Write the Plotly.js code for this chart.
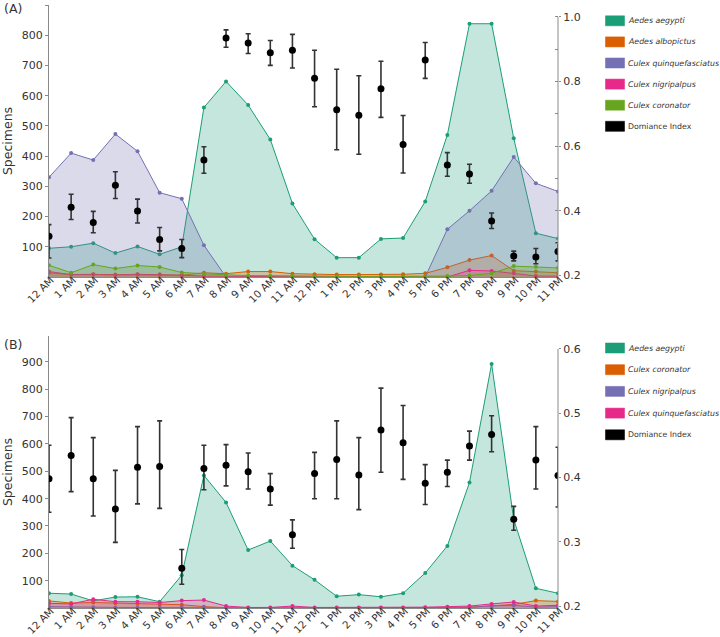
<!DOCTYPE html>
<html>
<head>
<meta charset="utf-8">
<script src="https://cdn.plot.ly/plotly-3.0.1.min.js"></script>
<style>
  html, body { margin: 0; padding: 0; background: #fff; }
  #plot { width: 720px; height: 637px; }
</style>
</head>
<body>
<div id="plot"></div>
<script>
// ======================= DATA =======================
const hours = ['12 AM','1 AM','2 AM','3 AM','4 AM','5 AM','6 AM','7 AM','8 AM','9 AM','10 AM','11 AM',
               '12 PM','1 PM','2 PM','3 PM','4 PM','5 PM','6 PM','7 PM','8 PM','9 PM','10 PM','11 PM'];

// panel (A)
const namesA  = ['Aedes aegypti','Aedes albopictus','Culex quinquefasciatus','Culex nigripalpus','Culex coronator'];
const colorsA = ['#1b9e77','#d95f02','#7570b3','#e7298a','#66a61e'];
const aegyptiA     = [95,100,112,79,101,75,100,561,647,569,455,243,125,64,64,126,129,250,470,838,838,459,145,127];
const albopictusA  = [14,8,8,8,8,8,6,14,11,18,18,11,9,8,8,8,9,12,32,56,71,21,18,14];
const quinqueA     = [330,410,387,473,416,279,259,105,0,0,0,0,0,0,0,0,0,0,158,219,285,397,310,283];
const nigripalpusA = [18,8,9,7,9,8,6,3,2,1,1,1,1,1,1,1,1,0,0,22,20,12,3,3];
const coronatorA   = [39,14,41,28,38,33,15,10,7,5,4,3,2,2,2,2,2,2,3,5,12,36,34,30];
const domA   = [0.321,0.411,0.364,0.479,0.399,0.311,0.283,0.557,0.935,0.919,0.889,0.897,
                0.810,0.713,0.696,0.778,0.605,0.867,0.542,0.514,0.368,0.260,0.257,0.274];
const domA_hi = [0.357,0.451,0.398,0.521,0.436,0.348,0.311,0.598,0.960,0.948,0.927,0.946,
                 0.897,0.838,0.818,0.863,0.695,0.921,0.580,0.544,0.393,0.275,0.283,0.301];
const domA_lo = [0.254,0.373,0.332,0.438,0.362,0.276,0.255,0.516,0.906,0.887,0.850,0.842,
                 0.722,0.589,0.575,0.689,0.517,0.810,0.507,0.485,0.345,0.245,0.236,0.245];

// panel (B)
const namesB  = ['Aedes aegypti','Culex coronator','Culex nigripalpus','Culex quinquefasciatus'];
const colorsB = ['#1b9e77','#d95f02','#7570b3','#e7298a'];
const aegyptiB     = [54,51,26,40,41,23,120,485,386,212,245,155,103,43,49,41,54,128,227,459,893,324,72,54];
const coronatorB   = [26,18,20,17,16,14,12,5,1,0,0,0,0,0,0,0,0,0,2,3,7,13,27,24];
const nigripalpusB = [5,3,3,2,2,2,2,3,1,0,0,0,0,0,0,0,0,0,0,2,8,10,3,5];
const quinqueB     = [17,15,32,23,23,20,27,29,7,2,2,7,2,2,2,2,2,3,5,7,15,22,7,10];
const domB    = [0.398,0.434,0.398,0.351,0.416,0.417,0.259,0.414,0.419,0.409,0.382,0.311,
                 0.406,0.428,0.404,0.474,0.454,0.391,0.408,0.449,0.467,0.335,0.427,0.403];
const domB_hi = [0.450,0.493,0.462,0.411,0.479,0.488,0.288,0.450,0.451,0.438,0.406,0.334,
                 0.439,0.488,0.462,0.539,0.512,0.420,0.427,0.472,0.496,0.355,0.479,0.447];
const domB_lo = [0.346,0.378,0.340,0.299,0.359,0.352,0.234,0.381,0.387,0.382,0.357,0.290,
                 0.367,0.367,0.350,0.408,0.397,0.358,0.386,0.427,0.440,0.318,0.382,0.354];

const domName = 'Domiance Index';

// ======================= HELPERS =======================
const FONT = 'DejaVu Sans, Verdana, sans-serif';

function rgba(hex, a) {
  const n = parseInt(hex.slice(1), 16);
  return 'rgba(' + (n >> 16) + ',' + ((n >> 8) & 255) + ',' + (n & 255) + ',' + a + ')';
}

function areaTrace(y, color, xa, ya) {
  return {
    x: hours, y: y, xaxis: xa, yaxis: ya,
    type: 'scatter', mode: 'lines+markers', fill: 'tozeroy',
    fillcolor: rgba(color, 0.26),
    line: { color: color, width: 1 },
    marker: { color: color, size: 4 },
    showlegend: false, hoverinfo: 'skip'
  };
}

function domTrace(y, hi, lo, xa, ya) {
  return {
    x: hours, y: y, xaxis: xa, yaxis: ya,
    type: 'scatter', mode: 'markers',
    marker: { color: '#000', size: 7 },
    error_y: {
      type: 'data', symmetric: false,
      array: hi.map((v, i) => v - y[i]),
      arrayminus: lo.map((v, i) => y[i] - v),
      color: '#333', thickness: 1.6, width: 2.5
    },
    showlegend: false, hoverinfo: 'skip'
  };
}

// ======================= TRACES =======================
const seriesA = [aegyptiA, albopictusA, quinqueA, nigripalpusA, coronatorA];
const seriesB = [aegyptiB, coronatorB, nigripalpusB, quinqueB];

const traces = [];
seriesA.forEach((s, i) => traces.push(areaTrace(s, colorsA[i], 'x', 'y')));
traces.push(domTrace(domA, domA_hi, domA_lo, 'x', 'y2'));
seriesB.forEach((s, i) => traces.push(areaTrace(s, colorsB[i], 'x2', 'y3')));
traces.push(domTrace(domB, domB_hi, domB_lo, 'x2', 'y4'));

// ======================= LAYOUT =======================
// plot area in pixels: x 49..558, y 5..608
const L = 49, R = 558, T = 5, B = 608;
const px = v => (v - L) / (R - L);
const py = v => (B - v) / (B - T);

function xAxis(anchor) {
  return {
    anchor: anchor, domain: [0, 1], type: 'category', range: [0, 23],
    tickangle: -45, tickfont: { family: FONT, size: 10.3, color: '#333' },
    showline: true, linecolor: '#8a8a8a', linewidth: 1,
    ticks: '', ticklabelstandoff: -8, ticklabelshift: 2,
    showgrid: false, zeroline: false, fixedrange: true
  };
}

function leftAxis(anchor, domain, range) {
  return {
    anchor: anchor, domain: domain, range: range,
    tickvals: [100,200,300,400,500,600,700,800,900],
    tickfont: { family: FONT, size: 11, color: '#333' },
    title: { text: 'Specimens', font: { family: FONT, size: 12.5, color: '#333' }, standoff: 9 },
    showline: true, linecolor: '#8a8a8a', linewidth: 1,
    ticks: 'outside', ticklen: 3, tickcolor: '#8a8a8a',
    showgrid: false, zeroline: false, fixedrange: true
  };
}

function rightAxis(anchor, over, range, tickvals, minor) {
  const ax = {
    anchor: anchor, overlaying: over, side: 'right', range: range,
    tickvals: tickvals, tickformat: '.1f',
    tickfont: { family: FONT, size: 11, color: '#333' },
    showline: false,
    ticks: 'outside', ticklen: 2, tickcolor: '#8a8a8a',
    showgrid: false, zeroline: false, fixedrange: true
  };
  if (minor) ax.minor = { dtick: 0.1, tick0: 0.1, ticks: 'inside', ticklen: 3, tickcolor: '#8a8a8a' };
  return ax;
}

const shapes = [
  // right axis lines (stop at the top tick)
  { type: 'line', xref: 'paper', yref: 'y2', x0: 1, x1: 1, y0: 0.195, y1: 1.0, line: { color: '#8a8a8a', width: 1 } },
  { type: 'line', xref: 'paper', yref: 'y4', x0: 1, x1: 1, y0: 0.197, y1: 0.6, line: { color: '#8a8a8a', width: 1 } }
];
const annotations = [
  { xref: 'paper', yref: 'paper', x: px(2), y: py(9), xanchor: 'left', yanchor: 'middle',
    text: '(A)', showarrow: false, font: { family: FONT, size: 12.5, color: '#333' } },
  { xref: 'paper', yref: 'paper', x: px(2), y: py(344), xanchor: 'left', yanchor: 'middle',
    text: '(B)', showarrow: false, font: { family: FONT, size: 12.5, color: '#333' } }
];

function addLegend(names, colors, top, step) {
  const all = names.map(n => '<i>' + n + '</i>').concat([domName]);
  const cols = colors.concat(['#000000']);
  all.forEach((label, i) => {
    const c = top + i * step;
    shapes.push({
      type: 'rect', xref: 'paper', yref: 'paper',
      x0: px(605.5), x1: px(624.5), y0: py(c - 5), y1: py(c + 5),
      fillcolor: cols[i], line: { color: rgba(cols[i], 0.55), width: 1 }
    });
    annotations.push({
      xref: 'paper', yref: 'paper', x: px(626), y: py(c), xanchor: 'left', yanchor: 'middle',
      text: label, showarrow: false, font: { family: FONT, size: 7.8, color: '#333' }
    });
  });
}
addLegend(namesA, colorsA, 20.8, 21.1);
addLegend(namesB, colorsB, 348, 21.7);

const layout = {
  width: 720, height: 637,
  margin: { l: L, r: 720 - R, t: T, b: 637 - B },
  paper_bgcolor: '#fff', plot_bgcolor: '#fff',
  font: { family: FONT, color: '#333' },
  showlegend: false,
  xaxis: xAxis('y'),
  yaxis: leftAxis('x', [py(277), 1], [0, 900]),
  yaxis2: rightAxis('x', 'y', [0.195, 1.037], [0.2, 0.4, 0.6, 0.8, 1.0], true),
  xaxis2: xAxis('y3'),
  yaxis3: leftAxis('x2', [0, py(336)], [0, 995]),
  yaxis4: rightAxis('x2', 'y3', [0.197, 0.62], [0.2, 0.3, 0.4, 0.5, 0.6], false),
  shapes: shapes,
  annotations: annotations
};

Plotly.newPlot('plot', traces, layout, { staticPlot: true, displayModeBar: false });
</script>
</body>
</html>
